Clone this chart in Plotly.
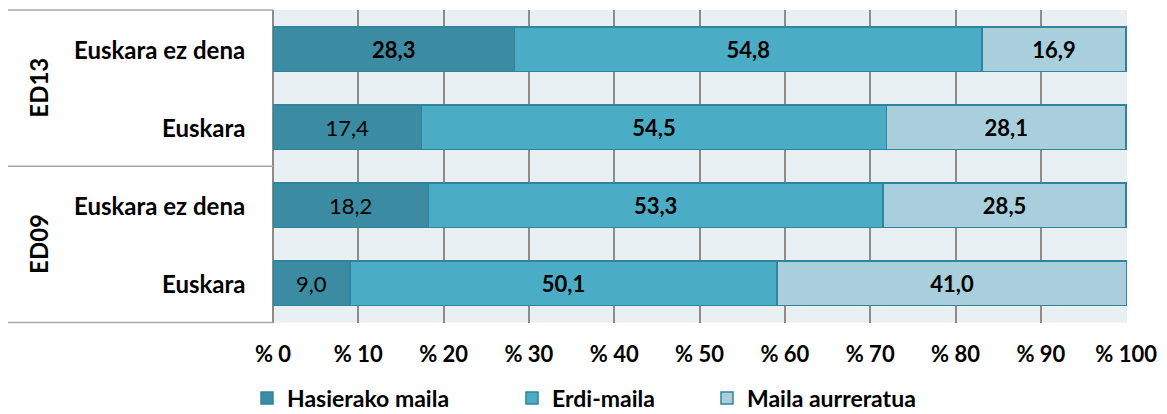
import plotly.graph_objects as go

groups = ["ED13", "ED13", "ED09", "ED09"]
categories = ["Euskara ez dena", "Euskara", "Euskara ez dena", "Euskara"]
series_names = ["Hasierako maila", "Erdi-maila", "Maila aurreratua"]
hasierako = [28.3, 17.4, 18.2, 9.0]
erdi = [54.8, 54.5, 53.3, 50.1]
aurreratua = [16.9, 28.1, 28.5, 41.0]
tick_vals = [0, 10, 20, 30, 40, 50, 60, 70, 80, 90, 100]
tick_text = ["% " + str(v) for v in tick_vals]

# which labels are shown in regular weight (others bold)
regular_labels = {(0, 1), (0, 2), (0, 3)}

colors = ["#3B8BA2", "#4BACC6", "#A9CEDC"]
borders = ["#31849B", "#31849B", "#31849B"]
FONT = "Lato"

ypos = list(range(len(categories)))
fig = go.Figure()
for si, (name, vals) in enumerate(zip(series_names, [hasierako, erdi, aurreratua])):
    texts = []
    for ci, v in enumerate(vals):
        s = f"{v:.1f}".replace(".", ",")
        texts.append(s if (si, ci) in regular_labels else f"<b>{s}</b>")
    fig.add_trace(go.Bar(
        y=ypos, x=vals, name=name, orientation="h",
        width=0.57,
        marker=dict(color=colors[si], line=dict(color=borders[si], width=1.5)),
        text=texts, textposition="inside", insidetextanchor="middle",
        textangle=0, constraintext="none",
        textfont=dict(family=FONT, size=22, color="black"),
        hoverinfo="skip",
        legend=["legend", "legend2", "legend3"][si],
    ))

fig.update_layout(
    barmode="stack",
    width=1167, height=414,
    margin=dict(l=273, r=40, t=10, b=88),
    paper_bgcolor="white",
    plot_bgcolor="#E9F0F4",
    font=dict(family=FONT, size=22, color="black"),
    xaxis=dict(range=[0, 100.1], tickvals=tick_vals, ticktext=tick_text,
               showgrid=True, gridcolor="#8C8C8C", gridwidth=1.5,
               zeroline=True, zerolinecolor="#8C8C8C", zerolinewidth=1.5,
               tickfont=dict(family=FONT, size=22, color="black", weight="bold"),
               ticks="", ticklabelstandoff=16, fixedrange=True),
    yaxis=dict(range=[3.5, -0.5], showticklabels=False, showgrid=False,
               zeroline=False, fixedrange=True),
    showlegend=True,
)

leg_common = dict(orientation="h", yref="container", yanchor="middle",
                  y=(414 - 398) / 414, xanchor="left",
                  bgcolor="rgba(0,0,0,0)",
                  font=dict(family=FONT, size=23, color="black", weight="bold"),
                  itemwidth=30)
fig.update_layout(
    legend=dict(x=(247 - 273) / 854, **leg_common),
    legend2=dict(x=(512 - 273) / 854, **leg_common),
    legend3=dict(x=(707 - 273) / 854, **leg_common),
)

# category labels
for ci, cat in enumerate(categories):
    fig.add_annotation(x=(247 - 273) / 854, xref="paper", y=ci, yref="y",
                       text=f"<b>{cat}</b>", showarrow=False, xanchor="right",
                       font=dict(family=FONT, size=24, color="black"))
# group labels
group_names = []
for g in groups:
    if g not in group_names:
        group_names.append(g)
for gname in group_names:
    idx = [i for i, g in enumerate(groups) if g == gname]
    center = (idx[0] + idx[-1]) / 2
    fig.add_annotation(x=(22 - 273) / 854, xref="paper", y=center, yref="y",
                       text=f"<b>{gname}</b>", showarrow=False, textangle=-90,
                       font=dict(family=FONT, size=24, color="black"))

# separator lines in label area
x0 = (8 - 273) / 854
line_style = dict(color="#A6A6A6", width=1.5)
fig.add_shape(type="line", xref="paper", yref="paper", x0=x0, x1=0, y0=1, y1=1, line=line_style)
fig.add_shape(type="line", xref="paper", yref="paper", x0=x0, x1=0, y0=0, y1=0, line=line_style)
fig.add_shape(type="line", xref="paper", yref="y", x0=x0, x1=0, y0=1.5, y1=1.5, line=line_style)

fig.write_html("out.html", config={"displayModeBar": False},
               post_script="document.body.style.margin='0';")
